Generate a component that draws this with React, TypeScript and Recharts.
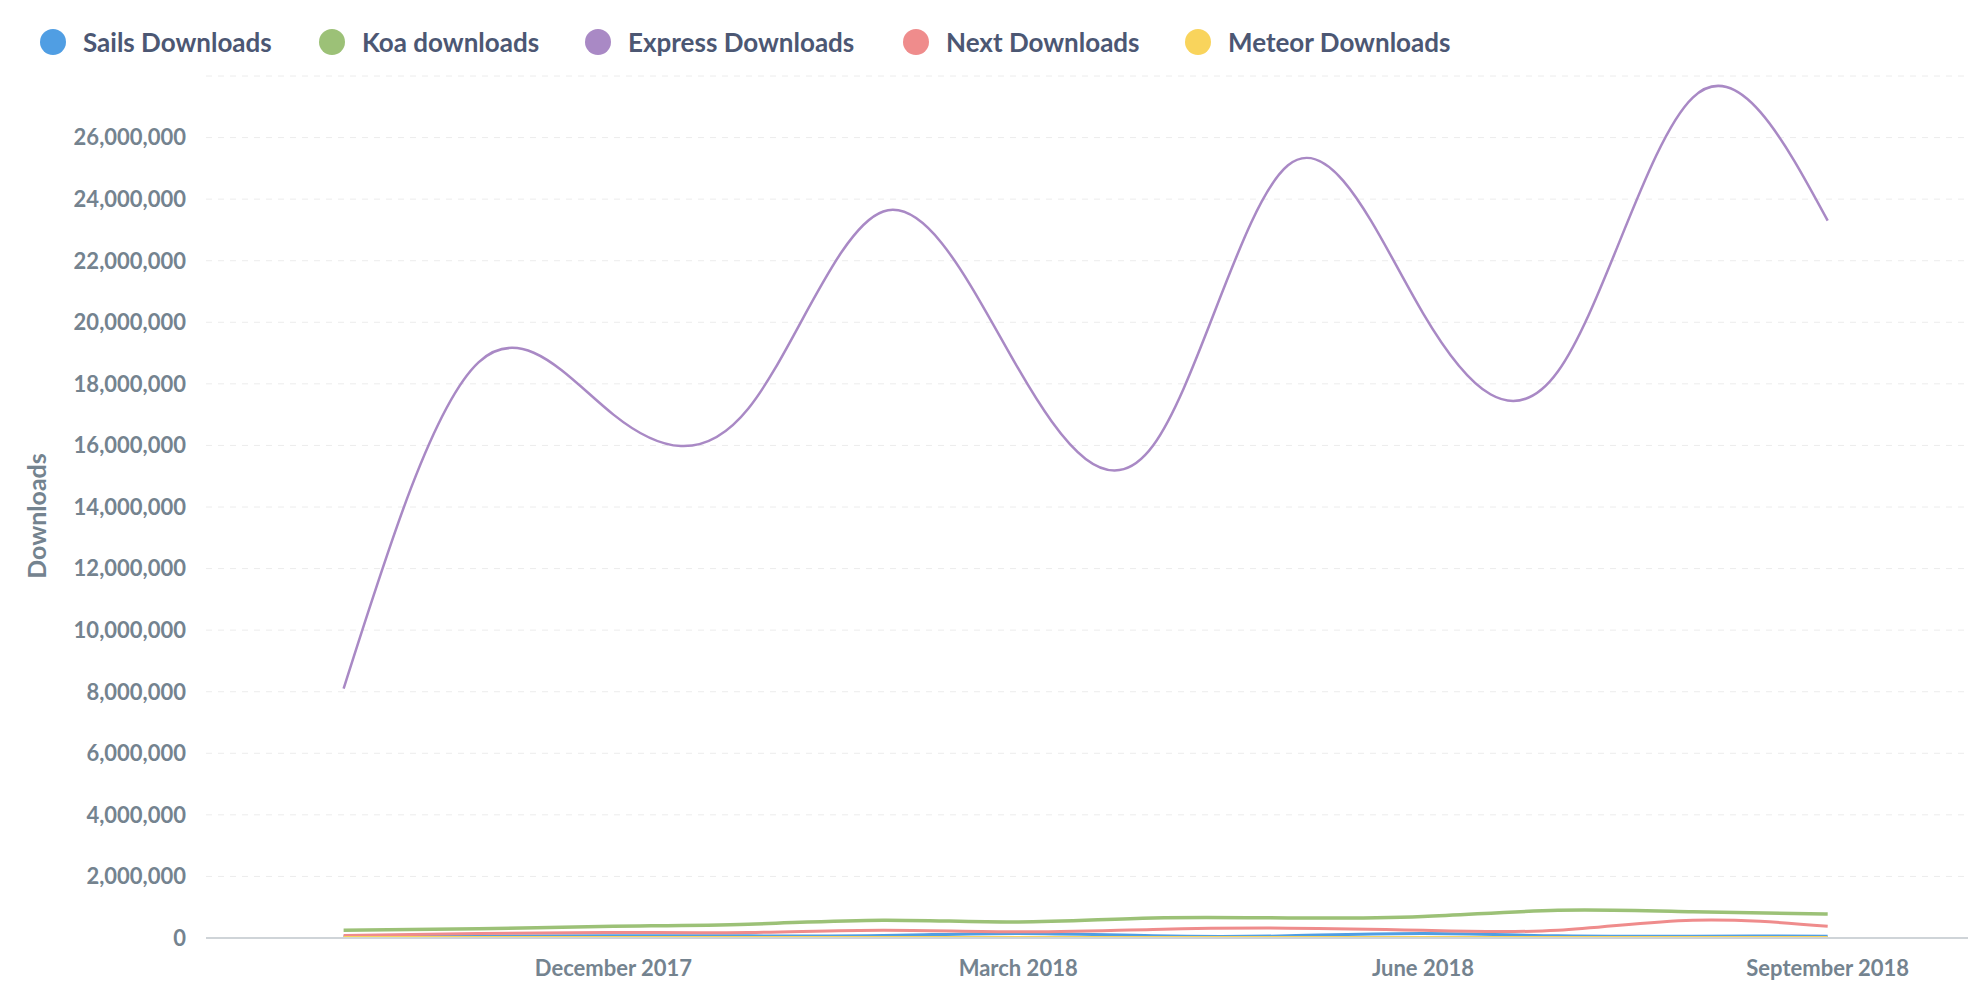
import React from 'react';
import { LineChart, Line, XAxis, YAxis, CartesianGrid } from 'recharts';

const months = ['Oct 2017', 'November 2017', 'December 2017', 'January 2018', 'February 2018', 'March 2018', 'April 2018', 'May 2018', 'June 2018', 'July 2018', 'August 2018', 'September 2018'];
const sails = [50000, 60000, 70000, 70000, 80000, 150000, 70000, 70000, 150000, 70000, 60000, 60000];
const koa = [250000, 300000, 380000, 450000, 580000, 520000, 650000, 650000, 700000, 900000, 850000, 780000];
const express = [8100000, 18700000, 17000000, 17200000, 23600000, 18500000, 16000000, 25100000, 20300000, 18400000, 27300000, 23300000];
const next = [80000, 150000, 180000, 180000, 250000, 200000, 280000, 320000, 250000, 250000, 580000, 380000];
const meteor = [20000, 20000, 20000, 20000, 20000, 20000, 20000, 20000, 20000, 20000, 20000, 20000];
const yTicks = [0, 2e6, 4e6, 6e6, 8e6, 10e6, 12e6, 14e6, 16e6, 18e6, 20e6, 22e6, 24e6, 26e6];
const xTicks = [2, 5, 8, 11];

const data = months.map((m, i) => ({ i, month: m, sails: sails[i], koa: koa[i], express: express[i], next: next[i], meteor: meteor[i] }));

const series = [
  { key: 'sails', name: 'Sails Downloads', color: '#509ee3', width: 3 },
  { key: 'koa', name: 'Koa downloads', color: '#9cc177', width: 3.5 },
  { key: 'express', name: 'Express Downloads', color: '#a989c5', width: 2.5 },
  { key: 'next', name: 'Next Downloads', color: '#ef8c8c', width: 3 },
  { key: 'meteor', name: 'Meteor Downloads', color: '#f9d45c', width: 3 },
];
const legendX = [53, 332, 598, 916, 1198];

const grey = '#74838f';
const font = 'Lato, sans-serif';

export default function App() {
  return (
    <div style={{ position: 'absolute', left: 0, top: 0, width: 1988, height: 998, background: '#fff', fontFamily: font }}>
      {series.map((s, k) => (
        <div key={s.key} style={{ position: 'absolute', left: legendX[k] - 13, top: 26, display: 'flex', alignItems: 'center', fontWeight: 700, fontSize: 26, color: '#4c5773' }}>
          <span style={{ width: 26, height: 26, borderRadius: 13, background: s.color, display: 'inline-block', marginRight: 17 }} />
          {s.name}
        </div>
      ))}
      <div style={{ position: 'absolute', left: 36, top: 516, transform: 'translate(-50%, -50%) rotate(-90deg)', fontWeight: 700, fontSize: 25, color: grey }}>Downloads</div>
      <LineChart width={1988} height={998} data={data} margin={{ top: 76, right: 20, bottom: 0, left: 0 }}>
        <CartesianGrid vertical={false} stroke="#ececec" strokeDasharray="6 6" />
        <XAxis
          dataKey="i"
          type="number"
          domain={[-1.02, 12.04]}
          ticks={xTicks}
          tickFormatter={(v) => months[v]}
          height={60}
          axisLine={{ stroke: '#cfd4d8', strokeWidth: 2 }}
          tickLine={false}
          tickMargin={16}
          tick={{ fontSize: 22, fontWeight: 700, fill: grey, fontFamily: font }}
        />
        <YAxis
          domain={[0, 28000000]}
          ticks={yTicks}
          width={206}
          axisLine={false}
          tickLine={false}
          tickMargin={14}
          tickFormatter={(v) => v.toLocaleString('en-US')}
          tick={{ fontSize: 22, fontWeight: 700, fill: grey, fontFamily: font }}
        />
        {series.map((s) => (
          <Line key={s.key} type="natural" dataKey={s.key} name={s.name} stroke={s.color} strokeWidth={s.width} dot={false} isAnimationActive={false} />
        ))}
      </LineChart>
    </div>
  );
}
